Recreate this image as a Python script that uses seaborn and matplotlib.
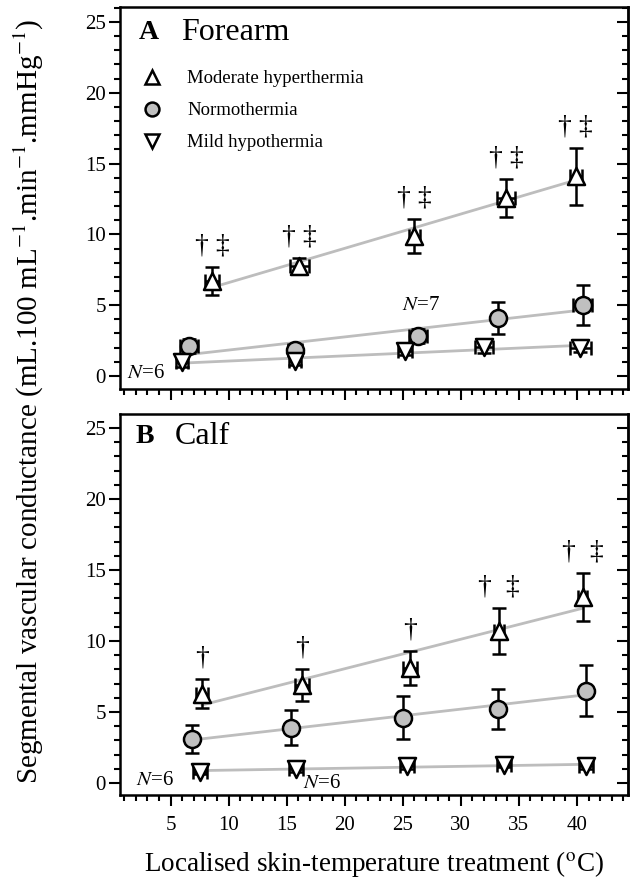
import numpy as np
import pandas as pd
import matplotlib
matplotlib.use("Agg")
import matplotlib.pyplot as plt
import seaborn as sns
from matplotlib.ticker import MultipleLocator
from matplotlib.lines import Line2D

# ---------------- data ----------------
group_labels = ["Moderate hyperthermia", "Normothermia", "Mild hypothermia"]
x_ticks = [5, 10, 15, 20, 25, 30, 35, 40]
y_ticks = [0, 5, 10, 15, 20, 25]

# Panel A: forearm
fa_hyper_x = [8.6, 16.1, 26.0, 33.9, 39.9]
fa_hyper_y = [6.7, 7.8, 9.85, 12.55, 14.1]
fa_hyper_yerr = [1.0, 0.5, 1.2, 1.35, 2.0]
fa_hyper_xerr = [0.6, 0.8, 0.5, 0.8, 0.5]

fa_normo_x = [6.6, 15.7, 26.3, 33.2, 40.5]
fa_normo_y = [2.1, 1.8, 2.85, 4.1, 5.0]
fa_normo_yerr = [0.5, 0.3, 0.5, 1.15, 1.4]
fa_normo_xerr = [0.8, 0.6, 0.8, 0.3, 0.8]

fa_hypo_x = [6.0, 15.7, 25.2, 32.0, 40.3]
fa_hypo_y = [0.95, 1.05, 1.75, 2.05, 2.0]
fa_hypo_yerr = [0.3, 0.3, 0.3, 0.4, 0.3]
fa_hypo_xerr = [0.5, 0.5, 0.6, 0.8, 0.9]

fa_sig = ["\u2020 \u2021"] * 5

# Panel B: calf
ca_hyper_x = [7.7, 16.3, 25.6, 33.3, 40.5]
ca_hyper_y = [6.3, 6.9, 8.1, 10.7, 13.1]
ca_hyper_yerr = [1.0, 1.1, 1.2, 1.6, 1.7]
ca_hyper_xerr = [0.5, 0.6, 0.6, 0.4, 0.4]

ca_normo_x = [6.8, 15.4, 25.0, 33.2, 40.8]
ca_normo_y = [3.1, 3.9, 4.6, 5.2, 6.5]
ca_normo_yerr = [1.0, 1.25, 1.5, 1.4, 1.8]
ca_normo_xerr = [0.3, 0.3, 0.3, 0.3, 0.3]

ca_hypo_x = [7.5, 15.8, 25.4, 33.7, 40.8]
ca_hypo_y = [0.8, 1.0, 1.2, 1.3, 1.2]
ca_hypo_yerr = [0.2, 0.2, 0.2, 0.2, 0.2]
ca_hypo_xerr = [0.6, 0.6, 0.6, 0.6, 0.6]

ca_sig = ["\u2020", "\u2020", "\u2020", "\u2020  \u2021", "\u2020  \u2021"]

# ---------------- style ----------------
sns.set_theme(style="ticks")
plt.rcParams["font.family"] = ["Liberation Serif", "DejaVu Serif"]
plt.rcParams["mathtext.fontset"] = "stix"
plt.rcParams["text.color"] = "black"
plt.rcParams["axes.labelcolor"] = "black"
plt.rcParams["xtick.color"] = "black"
plt.rcParams["ytick.color"] = "black"

LW = 1.8
GRAY_LINE = "#bdbdbd"
GRAY_FILL = "#c0c0c0"

fig = plt.figure(figsize=(6.36, 8.82), dpi=100)
ax_a = fig.add_axes([0.1887, 0.5590, 0.7987, 0.4331])
ax_b = fig.add_axes([0.1887, 0.0986, 0.7987, 0.4320])


def draw_series(ax, x, y, xerr, yerr, marker, fill, size):
    x = np.asarray(x, float)
    y = np.asarray(y, float)
    sns.regplot(x=x, y=y, ax=ax, scatter=False, ci=None, truncate=True,
                line_kws=dict(color=GRAY_LINE, lw=2.0, zorder=1))
    ax.errorbar(x, y, yerr=yerr, xerr=xerr, fmt="none", ecolor="black",
                elinewidth=LW, capsize=5, capthick=LW, zorder=2)
    sns.scatterplot(x=x, y=y, ax=ax, marker=marker, color=fill,
                    edgecolor="black", linewidth=LW, s=size, zorder=3,
                    legend=False)


def sig_marks(ax, x, y, yerr, marks, offset):
    for xi, yi, ei, m in zip(x, y, yerr, marks):
        ax.text(xi, yi + ei + offset, m, ha="center", va="center",
                fontsize=20, color="black")


def style_axis(ax, ylim):
    ax.set_xlim(0.64, 44.4)
    ax.set_ylim(*ylim)
    ax.set_xticks(x_ticks)
    ax.set_yticks(y_ticks)
    ax.xaxis.set_minor_locator(MultipleLocator(1))
    ax.yaxis.set_minor_locator(MultipleLocator(1))
    for sp in ax.spines.values():
        sp.set_visible(True)
        sp.set_linewidth(LW)
        sp.set_color("black")
    ax.tick_params(axis="both", which="both", colors="black", width=1.5,
                   labelsize=15)
    ax.tick_params(axis="y", which="both", left=True, right=False,
                   direction="out", pad=2)
    ax.tick_params(axis="x", which="both", bottom=True, top=False,
                   direction="out", pad=7)
    ax.tick_params(which="major", length=8)
    ax.tick_params(which="minor", length=4.5)
    ax.set_xlabel("")
    ax.set_ylabel("")


for ax, series, sig, ylim in [
    (ax_a, [(fa_hyper_x, fa_hyper_y, fa_hyper_xerr, fa_hyper_yerr),
            (fa_normo_x, fa_normo_y, fa_normo_xerr, fa_normo_yerr),
            (fa_hypo_x, fa_hypo_y, fa_hypo_xerr, fa_hypo_yerr)], fa_sig,
     (-0.92, 26.06)),
    (ax_b, [(ca_hyper_x, ca_hyper_y, ca_hyper_xerr, ca_hyper_yerr),
            (ca_normo_x, ca_normo_y, ca_normo_xerr, ca_normo_yerr),
            (ca_hypo_x, ca_hypo_y, ca_hypo_xerr, ca_hypo_yerr)], ca_sig,
     (-0.85, 25.99)),
]:
    specs = [("^", "white", 150), ("o", GRAY_FILL, 150), ("v", "white", 150)]
    for (x, y, xe, ye), (mk, fc, sz) in zip(series, specs):
        draw_series(ax, x, y, xe, ye, mk, fc, sz)
    sig_marks(ax, series[0][0], series[0][1], series[0][3], sig, 1.5)
    style_axis(ax, ylim)

# right-hand ticks pointing inward
for ax in (ax_a, ax_b):
    sec = ax.secondary_yaxis("right")
    sec.set_yticks(y_ticks)
    sec.yaxis.set_minor_locator(MultipleLocator(1))
    sec.tick_params(which="both", direction="in", labelright=False,
                    width=1.5, colors="black")
    sec.tick_params(which="major", length=8)
    sec.tick_params(which="minor", length=4.5)
    sec.spines["right"].set_linewidth(LW)

ax_a.tick_params(axis="x", labelbottom=False)

# panel titles
ax_a.text(0.037, 0.932, "A", transform=ax_a.transAxes, fontsize=20,
          fontweight="bold", va="center", ha="left")
ax_a.text(0.12, 0.932, "Forearm", transform=ax_a.transAxes, fontsize=23,
          va="center", ha="left")
ax_b.text(0.03, 0.94, "B", transform=ax_b.transAxes, fontsize=20,
          fontweight="bold", va="center", ha="left")
ax_b.text(0.108, 0.94, "Calf", transform=ax_b.transAxes, fontsize=23,
          va="center", ha="left")

# N labels
ax_a.text(1.2, 0.2, "$N$=6", fontsize=15, va="center", ha="left")
ax_a.text(26.6, 5.0, "$N$=7", fontsize=15, va="center", ha="center")
ax_b.text(2.0, 0.2, "$N$=6", fontsize=15, va="center", ha="left")
ax_b.text(16.4, -0.07, "$N$=6", fontsize=15, va="center", ha="left")

# legend
handles = [
    Line2D([], [], marker="^", ls="none", mfc="white", mec="black", mew=LW, ms=10),
    Line2D([], [], marker="o", ls="none", mfc=GRAY_FILL, mec="black", mew=LW, ms=10),
    Line2D([], [], marker="v", ls="none", mfc="white", mec="black", mew=LW, ms=10),
]
ax_a.legend(handles, group_labels, loc="upper left", bbox_to_anchor=(0.04, 0.835),
            frameon=False, fontsize=13.5, handletextpad=1.3, labelspacing=0.8,
            borderaxespad=0, handlelength=1.2, borderpad=0)

ax_b.set_xlabel("Localised skin-temperature treatment ($^{\\rm o}$C)",
                fontsize=19.5, labelpad=10)
fig.text(0.045, 0.545,
         "Segmental vascular conductance (mL.100 mL$^{-1}$.min$^{-1}$.mmHg$^{-1}$)",
         rotation=90, va="center", ha="center", fontsize=21)

fig.savefig("out.png", dpi=100)
